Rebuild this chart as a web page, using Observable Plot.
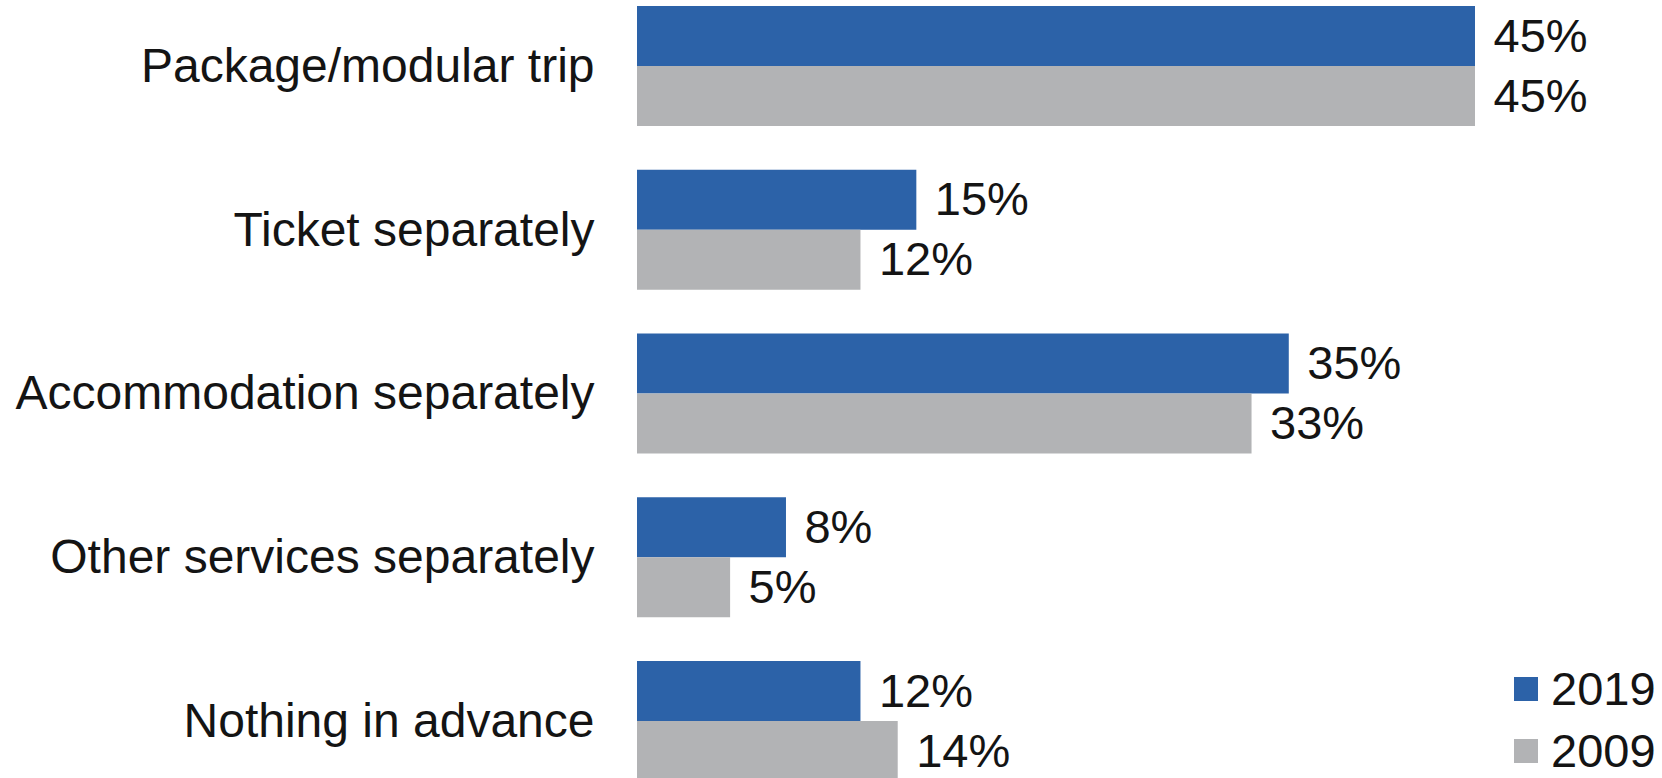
<!DOCTYPE html>
<html>
<head>
<meta charset="utf-8">
<script src="https://cdn.jsdelivr.net/npm/d3@7"></script>
<script src="https://cdn.jsdelivr.net/npm/@observablehq/plot@0.6"></script>
<style>
  html, body { margin: 0; padding: 0; background: #fff; overflow: hidden; }
  #wrap { position: relative; width: 1662px; height: 778px; font-family: "Liberation Sans", Arial, sans-serif; color: #141414; }
  #legend { position: absolute; left: 1514px; top: 658px; }
  .row { display: flex; align-items: center; height: 62px; line-height: 62px; font-size: 47px; }
  .sw { width: 24px; height: 24px; margin-right: 13px; }
</style>
</head>
<body>
<div id="wrap"><div id="chart"></div><div id="legend"></div></div>
<script>
const categories = ["Package/modular trip", "Ticket separately", "Accommodation separately", "Other services separately", "Nothing in advance"];
const series = ["2019", "2009"];
const values2019 = [45, 15, 35, 8, 12];
const values2009 = [45, 12, 33, 5, 14];
const colors = ["#2c62a8", "#b2b3b5"];

const data = categories.flatMap((c, i) => [
  {category: c, series: "2019", value: values2019[i]},
  {category: c, series: "2009", value: values2009[i]}
]);

const chart = Plot.plot({
  width: 1662,
  height: 778,
  marginLeft: 637,
  marginRight: 187,
  marginTop: 6,
  marginBottom: -3,
  style: {fontFamily: "\"Liberation Sans\", Arial, sans-serif", fontSize: "47px", color: "#141414", background: "white", overflow: "visible"},
  x: {domain: [0, 45], axis: null},
  fy: {domain: categories, paddingInner: 0.2672, paddingOuter: 0, round: false, label: null, axis: null},
  y: {domain: series, padding: 0, round: false, axis: null},
  color: {domain: series, range: colors},
  marks: [
    Plot.barX(data, {fy: "category", y: "series", x: "value", fill: "series"}),
    Plot.text(data, {fy: "category", y: "series", x: "value", text: d => d.value + "%", textAnchor: "start", dx: 18, fontSize: 47, fill: "#141414"}),
    Plot.axisFy({anchor: "left", tickSize: 0, tickPadding: 43, fontSize: 48, label: null, fill: "#141414"})
  ]
});
document.getElementById("chart").appendChild(chart);

const legend = document.getElementById("legend");
series.forEach((s, i) => {
  const row = document.createElement("div");
  row.className = "row";
  const sw = document.createElement("div");
  sw.className = "sw";
  sw.style.background = colors[i];
  const t = document.createElement("span");
  t.textContent = s;
  row.appendChild(sw);
  row.appendChild(t);
  legend.appendChild(row);
});
</script>
</body>
</html>
